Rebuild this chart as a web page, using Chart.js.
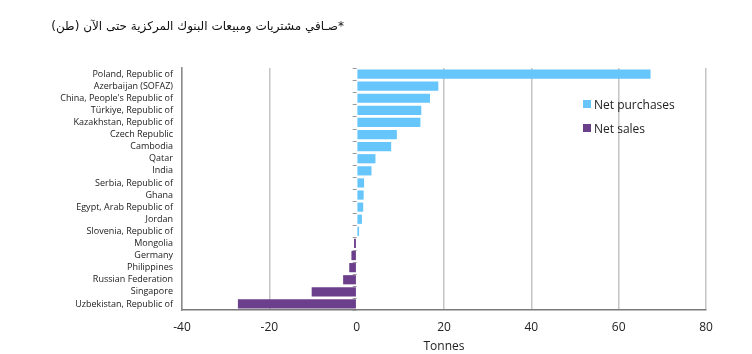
<!DOCTYPE html>
<html>
<head>
<meta charset="utf-8">
<script src="https://cdn.jsdelivr.net/npm/chart.js@4.4.1/dist/chart.umd.min.js"></script>
<style>
  html, body { margin: 0; padding: 0; background: #fff; }
  #wrap { position: relative; width: 752px; height: 354px; }
  #title {
    position: absolute; right: 408px; top: 19px; direction: rtl;
    font-family: "DejaVu Sans", sans-serif; font-size: 12px; color: #111; white-space: nowrap;
  }
  .legend { position: absolute; left: 583px; top: 92px; font-family: "Open Sans", sans-serif; font-size: 12px; color: #222; }
  .legend-item { display: flex; align-items: center; height: 24px; }
  .legend-color { width: 8px; height: 8px; margin-right: 3px; }
</style>
</head>
<body>
<div id="wrap">
  <div id="title">*صـافي مشتريات ومبيعات البنوك المركزية حتى الآن (طن)</div>
  <canvas id="goldChart" width="752" height="354"></canvas>
  <div class="legend"></div>
</div>
<script>
// categories, top to bottom
const countries = [
  'Poland, Republic of', 'Azerbaijan (SOFAZ)', "China, People's Republic of",
  'Türkiye, Republic of', 'Kazakhstan, Republic of', 'Czech Republic', 'Cambodia',
  'Qatar', 'India', 'Serbia, Republic of', 'Ghana', 'Egypt, Arab Republic of',
  'Jordan', 'Slovenia, Republic of', 'Mongolia', 'Germany', 'Philippines',
  'Russian Federation', 'Singapore', 'Uzbekistan, Republic of'
];

// tonnes
const netPurchases = [67.3, 18.7, 16.8, 14.8, 14.6, 9.2, 7.9, 4.3, 3.4, 1.7, 1.6, 1.5, 1.2, 0.55,
  null, null, null, null, null, null];
const netSales = [null, null, null, null, null, null, null, null, null, null, null, null, null, null,
  -0.6, -1.2, -1.7, -3.1, -10.3, -27.2];

const xTicks = [-40, -20, 0, 20, 40, 60, 80];

const COLOR_PURCHASE = '#66C5FB';
const COLOR_SALE = '#6C3F8C';

// little tick marks left of the zero line, between categories
const zeroTicks = {
  id: 'zeroTicks',
  afterDatasetsDraw(chart) {
    const { ctx, scales: { x, y } } = chart;
    const x0 = x.getPixelForValue(0);
    const step = (y.bottom - y.top) / countries.length;
    ctx.save();
    ctx.strokeStyle = '#9a9a9a';
    ctx.lineWidth = 1;
    for (let i = 0; i <= countries.length; i++) {
      const py = Math.round(y.top + i * step) + 0.5;
      ctx.beginPath();
      ctx.moveTo(x0 - 4, py);
      ctx.lineTo(x0, py);
      ctx.stroke();
    }
    ctx.restore();
  }
};

const chart = new Chart(document.getElementById('goldChart').getContext('2d'), {
  type: 'bar',
  data: {
    labels: countries,
    datasets: [
      { label: 'Net purchases', data: netPurchases, backgroundColor: COLOR_PURCHASE },
      { label: 'Net sales', data: netSales, backgroundColor: COLOR_SALE }
    ]
  },
  options: {
    indexAxis: 'y',
    responsive: false,
    animation: false,
    layout: { padding: { top: 68, right: 46, bottom: 0, left: 0 } },
    datasets: { bar: { categoryPercentage: 1, barPercentage: 0.76 } },
    plugins: {
      legend: { display: false },
      tooltip: { enabled: false }
    },
    scales: {
      x: {
        stacked: true,
        min: -40,
        max: 80,
        afterBuildTicks: s => { s.ticks = xTicks.map(v => ({ value: v })); },
        afterFit: s => { s.height = 44; },
        ticks: { color: '#222', font: { family: 'Open Sans', size: 12 }, padding: 10 },
        grid: {
          color: c => (c.tick && c.tick.value === 0) ? 'rgba(0,0,0,0)' : '#c4c4c4',
          lineWidth: 1.5,
          drawTicks: false
        },
        border: { color: '#7a7a7a', width: 1.5 },
        title: { display: true, text: 'Tonnes', color: '#222', font: { family: 'Open Sans', size: 12 }, padding: { top: 4, bottom: 0 } }
      },
      y: {
        stacked: true,
        afterFit: s => { s.width = 182; },
        ticks: { color: '#1a1a1a', font: { family: 'Open Sans', size: 9 }, padding: 1, autoSkip: false },
        grid: { display: false },
        border: { color: '#8a8a8a', width: 1.5 }
      }
    }
  },
  plugins: [zeroTicks]
});

// legend built from the datasets
document.querySelector('.legend').innerHTML = chart.data.datasets.map(ds => `
  <div class="legend-item">
    <div class="legend-color" style="background-color: ${ds.backgroundColor};"></div>
    <span>${ds.label}</span>
  </div>`).join('');
</script>
</body>
</html>
